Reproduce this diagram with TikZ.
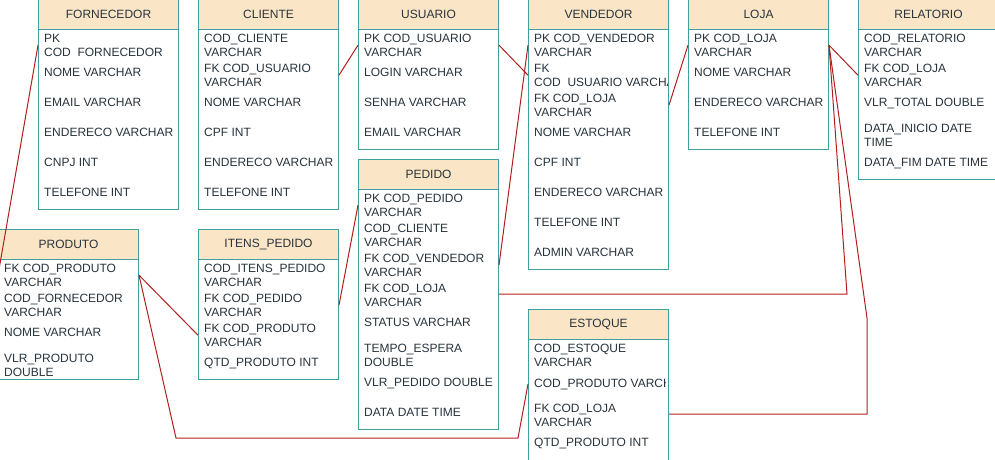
\documentclass[tikz,border=0pt]{standalone}
\usepackage{fontspec}
\setmainfont{Liberation Sans}
\definecolor{tealc}{RGB}{64,160,160}
\definecolor{peach}{RGB}{250,229,199}
\definecolor{txtc}{RGB}{40,52,60}
\definecolor{relc}{RGB}{178,30,30}
\begin{document}
\begin{tikzpicture}[x=1pt,y=-1pt,
  tbody/.style={draw=tealc, line width=1pt, fill=white, inner sep=0pt, minimum width=140pt, anchor=north west},
  thead/.style={draw=tealc, line width=1pt, fill=peach, inner sep=0pt, minimum width=140pt, minimum height=30pt, anchor=north west, text=txtc, font=\fontsize{12}{14}\selectfont},
  rowtxt/.style={anchor=base west, align=left, inner sep=0pt, text=txtc, font=\fontsize{12}{14}\selectfont},
  rel/.style={draw=relc, line width=1pt}]
\useasboundingbox (0,0) rectangle (995,459);
\clip (0,0) rectangle (995,459);

% ---------- FORNECEDOR
\node[tbody, minimum height=210pt] (forn) at (38,-1) {};
\node[thead] (fornH) at (38,-1) {FORNECEDOR};
\node[rowtxt] (fornPK) at (44,56.3) {PK\\COD\ \ FORNECEDOR};
\node[rowtxt] (fornNome) at (44,76.3) {NOME VARCHAR};
\node[rowtxt] (fornEmail) at (44,106.3) {EMAIL VARCHAR};
\node[rowtxt] (fornEnd) at (44,136.3) {ENDERECO VARCHAR};
\node[rowtxt] (fornCnpj) at (44,166.3) {CNPJ INT};
\node[rowtxt] (fornTel) at (44,196.3) {TELEFONE INT};

% ---------- CLIENTE
\node[tbody, minimum height=210pt] (cli) at (198,-1) {};
\node[thead] (cliH) at (198,-1) {CLIENTE};
\node[rowtxt] (cliCod) at (204,56.3) {COD\_CLIENTE\\VARCHAR};
\node[rowtxt] (cliFK) at (204,86.3) {FK COD\_USUARIO\\VARCHAR};
\node[rowtxt] (cliNome) at (204,106.3) {NOME VARCHAR};
\node[rowtxt] (cliCpf) at (204,136.3) {CPF INT};
\node[rowtxt] (cliEnd) at (204,166.3) {ENDERECO VARCHAR};
\node[rowtxt] (cliTel) at (204,196.3) {TELEFONE INT};

% ---------- USUARIO
\node[tbody, minimum height=150pt] (usu) at (358,-1) {};
\node[thead] (usuH) at (358,-1) {USUARIO};
\node[rowtxt] (usuPK) at (364,56.3) {PK COD\_USUARIO\\VARCHAR};
\node[rowtxt] (usuLogin) at (364,76.3) {LOGIN VARCHAR};
\node[rowtxt] (usuSenha) at (364,106.3) {SENHA VARCHAR};
\node[rowtxt] (usuEmail) at (364,136.3) {EMAIL VARCHAR};

% ---------- VENDEDOR
\node[tbody, minimum height=270pt] (ven) at (528,-1) {};
\node[thead] (venH) at (528,-1) {VENDEDOR};
\begin{scope}
\clip (528,29) rectangle (667.5,269);
\node[rowtxt] (venPK) at (534,56.3) {PK COD\_VENDEDOR\\VARCHAR};
\node[rowtxt] (venFKU) at (534,86.3) {FK\\COD\ \ USUARIO VARCHAR};
\node[rowtxt] (venFKL) at (534,116.3) {FK COD\_LOJA\\VARCHAR};
\node[rowtxt] (venNome) at (534,136.3) {NOME VARCHAR};
\node[rowtxt] (venCpf) at (534,166.3) {CPF INT};
\node[rowtxt] (venEnd) at (534,196.3) {ENDERECO VARCHAR};
\node[rowtxt] (venTel) at (534,226.3) {TELEFONE INT};
\node[rowtxt] (venAdm) at (534,256.3) {ADMIN VARCHAR};
\end{scope}

% ---------- LOJA
\node[tbody, minimum height=150pt] (loja) at (688,-1) {};
\node[thead] (lojaH) at (688,-1) {LOJA};
\node[rowtxt] (lojaPK) at (694,56.3) {PK COD\_LOJA\\VARCHAR};
\node[rowtxt] (lojaNome) at (694,76.3) {NOME VARCHAR};
\node[rowtxt] (lojaEnd) at (694,106.3) {ENDERECO VARCHAR};
\node[rowtxt] (lojaTel) at (694,136.3) {TELEFONE INT};

% ---------- RELATORIO
\node[tbody, minimum height=180pt] (rel) at (858,-1) {};
\node[thead] (relH) at (858,-1) {RELATORIO};
\node[rowtxt] (relCod) at (864,56.3) {COD\_RELATORIO\\VARCHAR};
\node[rowtxt] (relFK) at (864,86.3) {FK COD\_LOJA\\VARCHAR};
\node[rowtxt] (relVlr) at (864,106.3) {VLR\_TOTAL DOUBLE};
\node[rowtxt] (relIni) at (864,146.3) {DATA\_INICIO DATE\\TIME};
\node[rowtxt] (relFim) at (864,166.3) {DATA\_FIM DATE TIME};

% ---------- PRODUTO
\node[tbody, minimum height=150pt] (prod) at (-2,229) {};
\node[thead] (prodH) at (-2,229) {PRODUTO};
\begin{scope}
\clip (-2,259) rectangle (138,378.5);
\node[rowtxt] (prodFK) at (4,286.3) {FK COD\_PRODUTO\\VARCHAR};
\node[rowtxt] (prodForn) at (4,316.3) {COD\_FORNECEDOR\\VARCHAR};
\node[rowtxt] (prodNome) at (4,336.3) {NOME VARCHAR};
\node[rowtxt] (prodVlr) at (4,376.3) {VLR\_PRODUTO\\DOUBLE};
\end{scope}

% ---------- ITENS_PEDIDO
\node[tbody, minimum height=150pt] (itens) at (198,229) {};
\node[thead] (itensH) at (198,229) {ITENS\_PEDIDO};
\node[rowtxt] (itensCod) at (204,286.3) {COD\_ITENS\_PEDIDO\\VARCHAR};
\node[rowtxt] (itensFKPed) at (204,316.3) {FK COD\_PEDIDO\\VARCHAR};
\node[rowtxt] (itensFKProd) at (204,346.3) {FK COD\_PRODUTO\\VARCHAR};
\node[rowtxt] (itensQtd) at (204,366.3) {QTD\_PRODUTO INT};

% ---------- PEDIDO
\node[tbody, minimum height=270pt] (ped) at (358,159) {};
\node[thead] (pedH) at (358,159) {PEDIDO};
\node[rowtxt] (pedPK) at (364,216.3) {PK COD\_PEDIDO\\VARCHAR};
\node[rowtxt] (pedCli) at (364,246.3) {COD\_CLIENTE\\VARCHAR};
\node[rowtxt] (pedFKV) at (364,276.3) {FK COD\_VENDEDOR\\VARCHAR};
\node[rowtxt] (pedFKL) at (364,306.3) {FK COD\_LOJA\\VARCHAR};
\node[rowtxt] (pedStatus) at (364,326.3) {STATUS VARCHAR};
\node[rowtxt] (pedTempo) at (364,366.3) {TEMPO\_ESPERA\\DOUBLE};
\node[rowtxt] (pedVlr) at (364,386.3) {VLR\_PEDIDO DOUBLE};
\node[rowtxt] (pedData) at (364,416.3) {DATA DATE TIME};

% ---------- ESTOQUE
\node[tbody, minimum height=170pt] (est) at (528,309) {};
\node[thead] (estH) at (528,309) {ESTOQUE};
\begin{scope}
\clip (528,339) rectangle (665,479);
\node[rowtxt] (estCod) at (534,366.3) {COD\_ESTOQUE\\VARCHAR};
\node[rowtxt] (estCP) at (534,387) {COD\_PRODUTO VARCHAR};
\node[rowtxt] (estFK) at (534,426.3) {FK COD\_LOJA\\VARCHAR};
\node[rowtxt] (estQtd) at (534,446.3) {QTD\_PRODUTO INT};
\end{scope}

% ---------- connectors
\coordinate (b1) at (847,294);
\coordinate (b2) at (867,318);
\coordinate (b3) at (867,414);
\coordinate (b4) at (176,438);
\coordinate (b5) at (518,438);

\draw[rel] (forn.west |- fornPK) -- (prod.west |- prodFK);
\draw[rel] (cli.east |- cliFK) -- (usu.west |- usuPK);
\draw[rel] (usu.east |- usuPK) -- (ven.west |- venFKU);
\draw[rel] (ped.east |- pedFKV) -- (ven.west |- venPK);
\draw[rel] (ven.east |- venFKL) -- (loja.west |- lojaPK);
\draw[rel] (loja.east |- lojaPK) -- (rel.west |- relFK);
\draw[rel] (loja.east |- lojaPK) -- (b1) -- (ped.east |- b1);
\draw[rel] (loja.east |- lojaPK) -- (b2) -- (b3) -- (est.east |- b3);
\draw[rel] (prod.east |- prodFK) -- (itens.west |- itensFKProd);
\draw[rel] (prod.east |- prodFK) -- (b4) -- (b5) -- (est.west |- estCP);
\draw[rel] (itens.east |- itensFKPed) -- (ped.west |- pedPK);
\end{tikzpicture}
\end{document}
